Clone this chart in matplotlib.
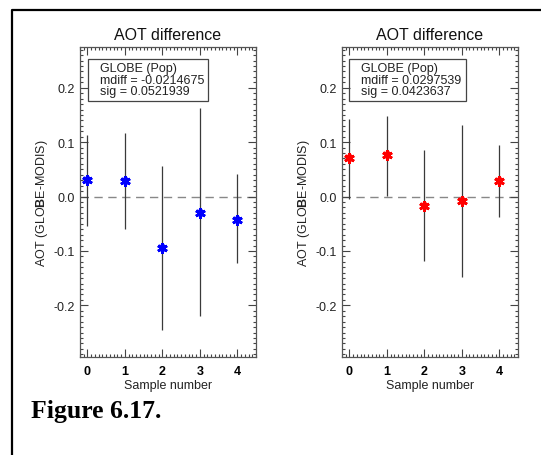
import matplotlib
matplotlib.use("Agg")
import matplotlib.pyplot as plt
from matplotlib.lines import Line2D
from matplotlib.ticker import MultipleLocator, FormatStrFormatter

plt.rcParams['font.family'] = ['Liberation Sans', 'DejaVu Sans']
plt.rcParams['mathtext.fontset'] = 'custom'
plt.rcParams['mathtext.rm'] = 'Liberation Sans'
plt.rcParams['mathtext.bf'] = 'Liberation Sans:bold'

# Sample indices
samples = [0, 1, 2, 3, 4]

# Population set (left panel)
pop_a_mean = [0.030, 0.028, -0.095, -0.031, -0.043]
pop_a_low = [-0.054, -0.060, -0.245, -0.219, -0.123]
pop_a_high = [0.114, 0.116, 0.056, 0.162, 0.041]
pop_a_stats = ["GLOBE (Pop)", "mdiff = -0.0214675", "sig = 0.0521939"]

# Population set (right panel)
pop_b_mean = [0.070, 0.076, -0.018, -0.009, 0.029]
pop_b_low = [-0.004, 0.001, -0.119, -0.148, -0.037]
pop_b_high = [0.142, 0.149, 0.085, 0.131, 0.094]
pop_b_stats = ["GLOBE (Pop)", "mdiff = 0.0297539", "sig = 0.0423637"]

W, H = 541, 456
fig = plt.figure(figsize=(W / 100, H / 100), dpi=100)


def panel(x0_px, mean, low, high, stats, color, box_px):
    ax = fig.add_axes([x0_px / W, 1 - 358 / H, 176 / W, 310 / H])
    ax.set_xlim(-0.2, 4.5)
    ax.set_ylim(-0.295, 0.275)
    ax.axhline(0.0, color='#888888', lw=1.0, ls=(0, (6, 4)), zorder=1)
    ax.vlines(samples, low, high, color='#3a3a3a', lw=0.9, zorder=2)
    ax.plot(samples, mean, ls='none', marker=(6, 2, 0), ms=7.5, mew=1.9,
            color=color, zorder=3)
    ax.plot(samples, mean, ls='none', marker='x', ms=5, mew=1.7,
            color=color, zorder=3)

    ax.xaxis.set_major_locator(MultipleLocator(1))
    ax.xaxis.set_minor_locator(MultipleLocator(0.1))
    ax.yaxis.set_major_locator(MultipleLocator(0.1))
    ax.yaxis.set_minor_locator(MultipleLocator(0.01))
    ax.yaxis.set_major_formatter(FormatStrFormatter('%.1f'))
    ax.tick_params(which='both', direction='in', top=True, right=True,
                   color='#444444', width=0.8)
    ax.tick_params(which='major', length=5.5)
    ax.tick_params(which='minor', length=2.5)
    ax.tick_params(axis='y', labelsize=9, pad=4, labelcolor='#222222')
    ax.tick_params(axis='x', labelsize=9, pad=6)
    for lab in ax.get_xticklabels():
        lab.set_fontweight('bold')
    for s in ax.spines.values():
        s.set_color('#555555')
        s.set_linewidth(0.9)

    ax.set_title("AOT difference", fontsize=11.5, pad=6, color='#111111')
    ax.set_xlabel("Sample number", fontsize=9, labelpad=1, color='#222222')
    ax.set_ylabel(r"AOT (GLO$\mathbf{B}$E-MODIS)", fontsize=9, labelpad=2,
                  color='#222222')

    bx0, bx1 = box_px
    by0, by1 = 60, 102
    box = plt.Rectangle((bx0 / W, 1 - by1 / H), (bx1 - bx0) / W, (by1 - by0) / H,
                        transform=fig.transFigure, fill=False,
                        edgecolor='#444444', lw=0.9)
    fig.add_artist(box)
    for i, line in enumerate(stats):
        fig.text((bx0 + 12) / W, 1 - (69 + 11.5 * i) / H, line, fontsize=9,
                 va='center', ha='left', color='#222222')
    return ax


panel(80, pop_a_mean, pop_a_low, pop_a_high, pop_a_stats, '#0000ff', (88, 208))
panel(342, pop_b_mean, pop_b_low, pop_b_high, pop_b_stats, '#ff0000', (349, 466))

# Page frame
fig.add_artist(Line2D([12 / W, 12 / W, 1.0], [0.0, 1 - 10.5 / H, 1 - 10.5 / H],
                      transform=fig.transFigure, color='black', lw=1.6))

fig.text(31 / W, 1 - 418 / H, "Figure 6.17.", fontsize=18.5, fontweight='bold',
         family=['Liberation Serif'], va='baseline', ha='left')

fig.savefig("out.png", dpi=100)
